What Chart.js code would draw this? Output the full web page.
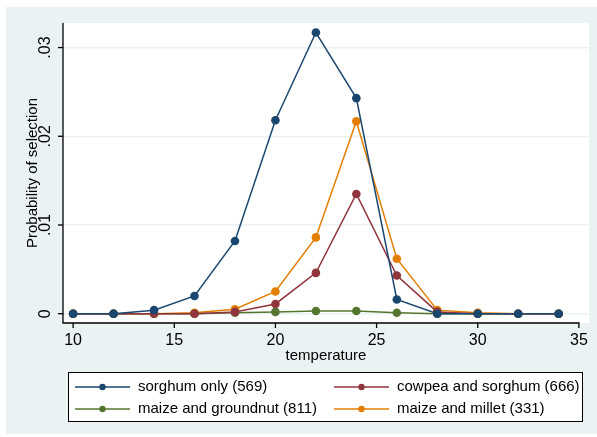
<!DOCTYPE html>
<html>
<head>
<meta charset="utf-8">
<script src="https://cdn.jsdelivr.net/npm/chart.js@4"></script>
<style>
  body { margin: 0; background: #fff; }
</style>
</head>
<body>
<canvas id="chart" width="597" height="437"></canvas>
<script>
// data
let temps = [10, 12, 14, 16, 18, 20, 22, 24, 26, 28, 30, 32, 34];
let sorghumOnly = [0, 0, 0.0004, 0.0020, 0.0082, 0.0218, 0.0317, 0.0243, 0.0016, 0, 0, 0, 0];
let cowpeaSorghum = [0, 0, 0, 0, 0.0002, 0.0011, 0.0046, 0.0135, 0.0043, 0.0002, 0, 0, 0];
let maizeGroundnut = [0, 0, 0, 0, 0.0001, 0.0002, 0.0003, 0.0003, 0.0001, 0, 0, 0, 0];
let maizeMillet = [0, 0, 0, 0.0001, 0.0005, 0.0025, 0.0086, 0.0217, 0.0062, 0.0004, 0.0001, 0, 0];

let seriesNames = ["sorghum only (569)", "cowpea and sorghum (666)", "maize and groundnut (811)", "maize and millet (331)"];
let seriesColors = ["#1A476F", "#90353B", "#55752F", "#E37E00"];

let xTicks = [10, 15, 20, 25, 30, 35];
let yTicks = [0, 0.01, 0.02, 0.03];
let yTickLabels = ["0", ".01", ".02", ".03"];

let xTitle = "temperature";
let yTitle = "Probability of selection";

const FONT = "'Liberation Sans', Arial, sans-serif";
const PANEL = "#EAF2F3";

function toPoints(vals) {
    return vals.map((v, i) => ({ x: temps[i], y: v }));
}

let allSeries = [sorghumOnly, cowpeaSorghum, maizeGroundnut, maizeMillet];

let datasets = allSeries.map((vals, i) => ({
    label: seriesNames[i],
    data: toPoints(vals),
    borderColor: seriesColors[i],
    backgroundColor: seriesColors[i],
    borderWidth: 1.5,
    pointRadius: 4.3,
    pointBorderWidth: 0,
    tension: 0
}));

// draws the stata-like frame, axes, labels and legend
let stataLook = {
    id: "stataLook",
    beforeDraw(chart) {
        let c = chart.ctx;
        let a = chart.chartArea;
        c.save();
        c.fillStyle = "#fff";
        c.fillRect(0, 0, chart.width, chart.height);
        c.fillStyle = PANEL;
        c.fillRect(6, 7, chart.width - 6, 427);
        c.fillStyle = "#fff";
        c.fillRect(a.left, a.top, a.right - a.left, a.bottom - a.top);
        c.restore();
    },
    afterDraw(chart) {
        let c = chart.ctx;
        let a = chart.chartArea;
        let xs = chart.scales.x;
        let ys = chart.scales.y;
        c.save();

        // axis lines
        c.strokeStyle = "#000";
        c.lineWidth = 1.3;
        let xEnd = xs.getPixelForValue(xTicks[xTicks.length - 1]);
        c.beginPath();
        c.moveTo(a.left, a.top);
        c.lineTo(a.left, a.bottom);
        c.lineTo(xEnd + 0.6, a.bottom);
        c.stroke();

        // x ticks and labels
        c.fillStyle = "#000";
        c.font = "16px " + FONT;
        c.textAlign = "center";
        c.textBaseline = "middle";
        xTicks.forEach(t => {
            let px = xs.getPixelForValue(t);
            c.beginPath();
            c.moveTo(px, a.bottom);
            c.lineTo(px, a.bottom + 5);
            c.stroke();
            c.fillText(String(t), px, a.bottom + 18);
        });

        // y ticks and rotated labels
        yTicks.forEach((t, i) => {
            let py = ys.getPixelForValue(t);
            c.beginPath();
            c.moveTo(a.left, py);
            c.lineTo(a.left - 5, py);
            c.stroke();
            c.save();
            c.translate(a.left - 17, py);
            c.rotate(-Math.PI / 2);
            c.fillText(yTickLabels[i], 0, 0);
            c.restore();
        });

        // axis titles
        c.font = "15px " + FONT;
        c.fillText(xTitle, (a.left + a.right) / 2, a.bottom + 33);
        c.save();
        c.translate(33, (a.top + a.bottom) / 2);
        c.rotate(-Math.PI / 2);
        c.fillText(yTitle, 0, 0);
        c.restore();

        // legend
        c.fillStyle = "#fff";
        c.fillRect(68, 372, 515, 50);
        c.strokeStyle = "#000";
        c.lineWidth = 1;
        c.strokeRect(68.5, 372.5, 514, 49);
        let cols = [75, 334];
        let rows = [387, 409];
        c.textAlign = "left";
        seriesNames.forEach((name, i) => {
            let x0 = cols[i % 2];
            let y0 = rows[Math.floor(i / 2)];
            c.strokeStyle = seriesColors[i];
            c.fillStyle = seriesColors[i];
            c.lineWidth = 1.5;
            c.beginPath();
            c.moveTo(x0, y0);
            c.lineTo(x0 + 55, y0);
            c.stroke();
            c.beginPath();
            c.arc(x0 + 27.5, y0, 3.2, 0, Math.PI * 2);
            c.fill();
            c.fillStyle = "#000";
            c.fillText(name, x0 + 63, y0);
        });

        c.restore();
    }
};

let ctx = document.getElementById("chart").getContext("2d");

let chart = new Chart(ctx, {
    type: "line",
    data: { datasets: datasets },
    options: {
        responsive: false,
        animation: false,
        devicePixelRatio: 1,
        layout: { padding: { left: 63, top: 23, right: 8, bottom: 114 } },
        plugins: { legend: { display: false }, tooltip: { enabled: false } },
        scales: {
            x: {
                type: "linear",
                min: 9.5,
                max: 35.5,
                afterBuildTicks: s => { s.ticks = xTicks.map(v => ({ value: v })); },
                ticks: { display: false },
                grid: { display: false, drawTicks: false },
                border: { display: false }
            },
            y: {
                min: -0.00105,
                max: 0.03277,
                afterBuildTicks: s => { s.ticks = yTicks.map(v => ({ value: v })); },
                ticks: { display: false },
                grid: { color: PANEL, lineWidth: 1.5, drawTicks: false },
                border: { display: false }
            }
        }
    },
    plugins: [stataLook]
});
</script>
</body>
</html>
